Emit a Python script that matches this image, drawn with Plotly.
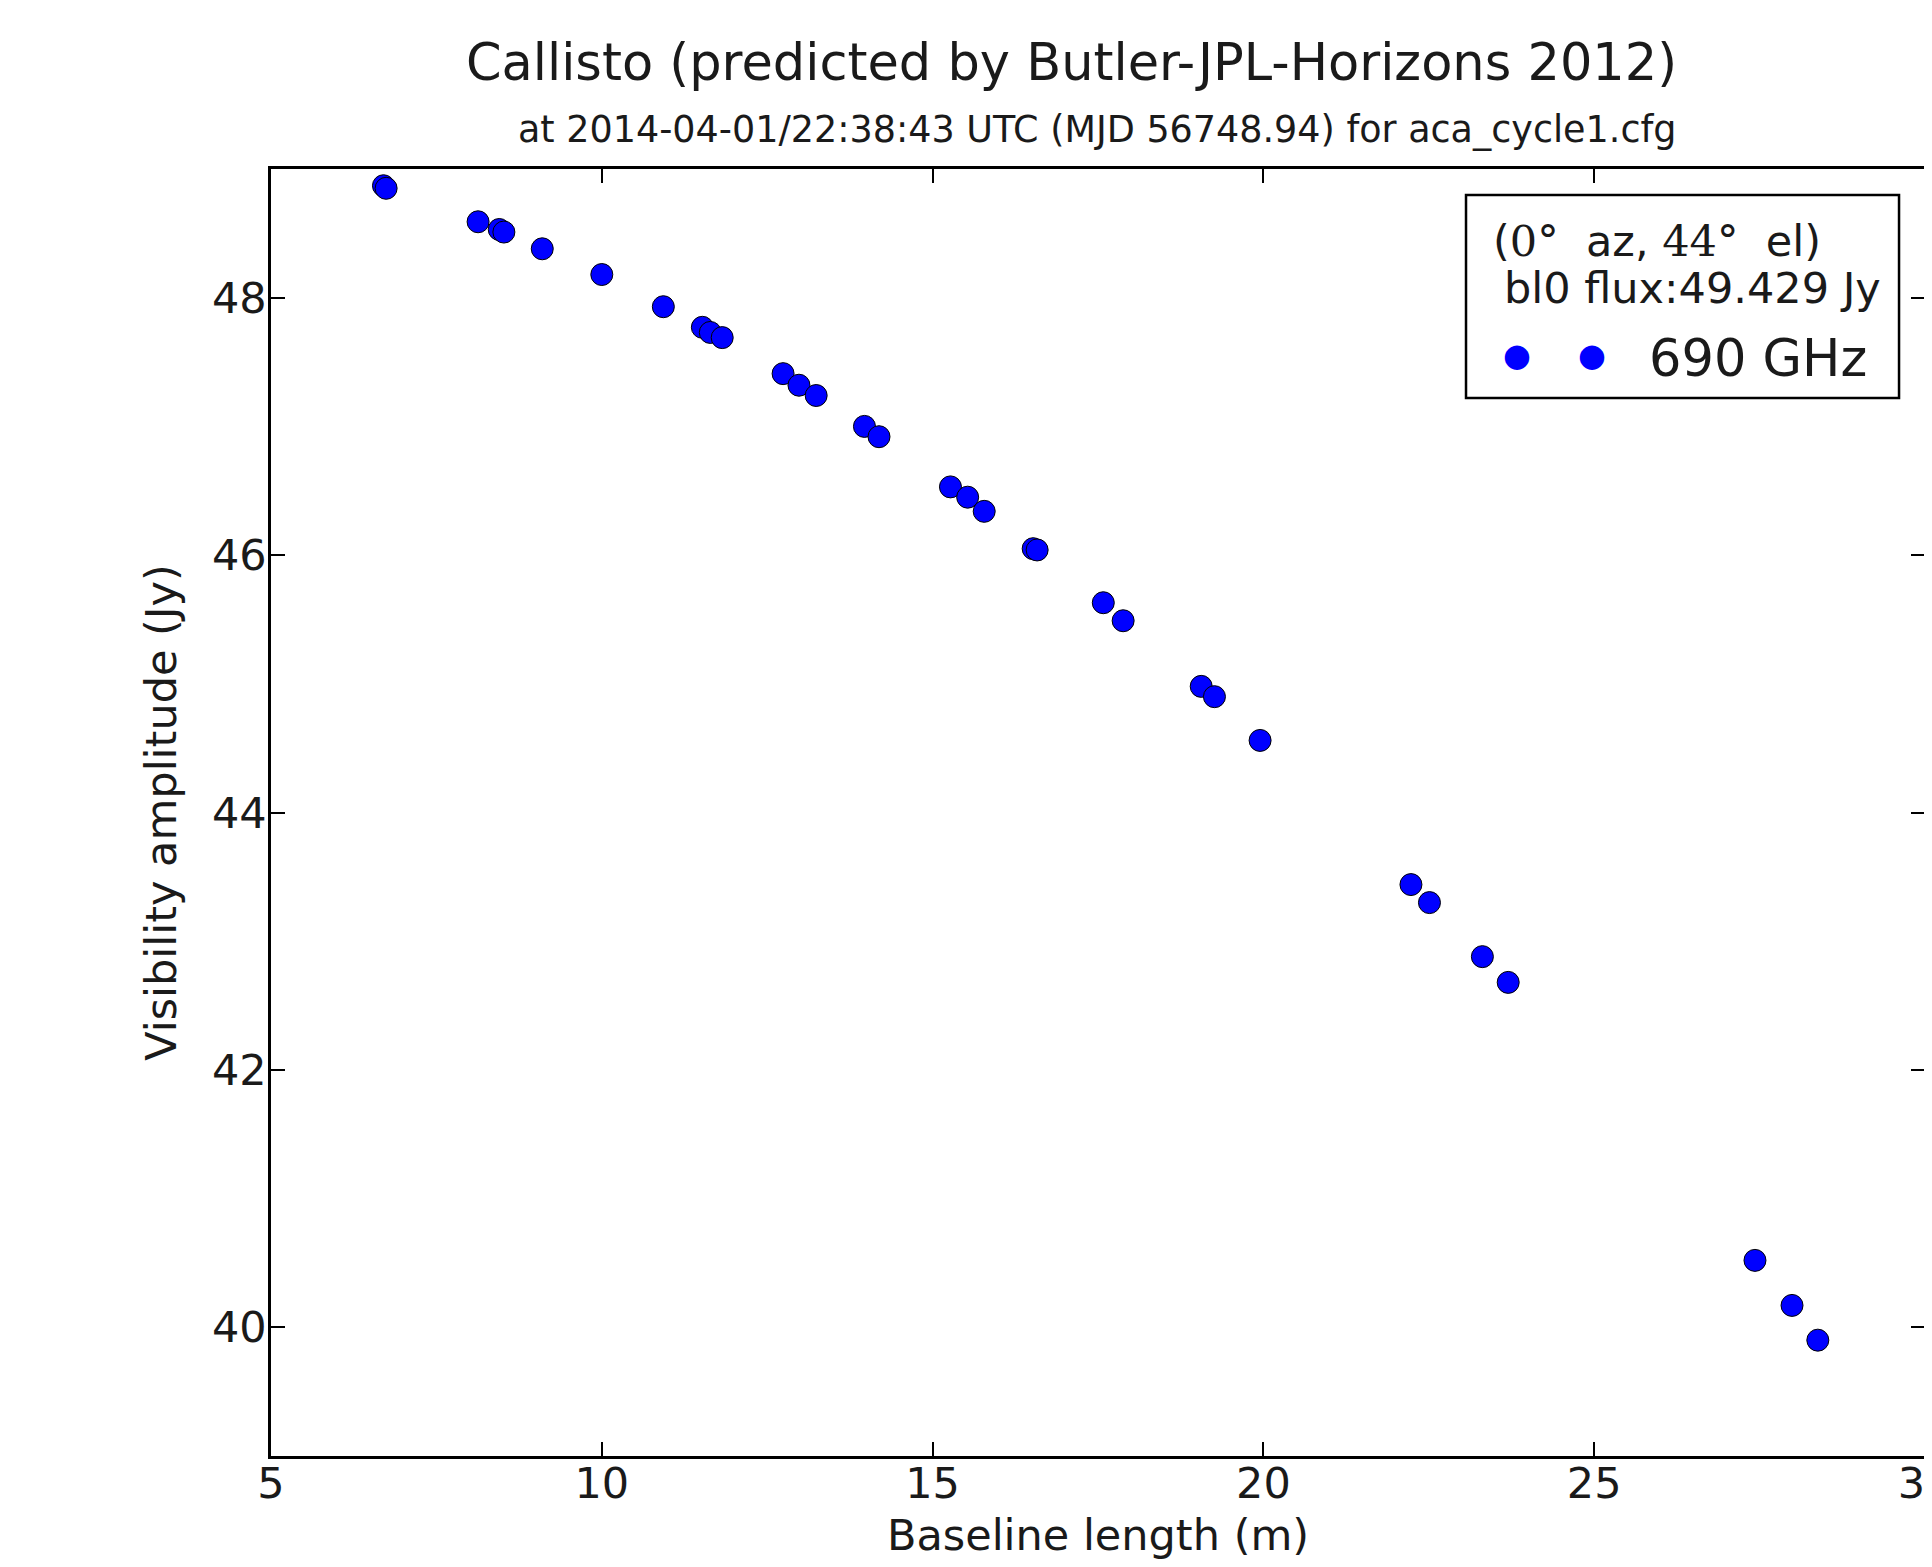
import plotly.graph_objects as go

# baseline length (m) and predicted visibility amplitude (Jy)
baseline = [6.70, 6.74, 8.13, 8.45, 8.52, 9.10, 10.00, 10.93, 11.52, 11.64, 11.82,
            12.74, 12.98, 13.24, 13.97, 14.19, 15.27, 15.53, 15.78, 16.52, 16.58,
            17.58, 17.88, 19.06, 19.26, 19.95, 22.23, 22.51, 23.31, 23.70,
            27.43, 27.99, 28.38]
amplitude = [48.87, 48.85, 48.59, 48.53, 48.51, 48.38, 48.18, 47.93, 47.77, 47.73, 47.69,
             47.41, 47.32, 47.24, 47.00, 46.92, 46.53, 46.45, 46.34, 46.05, 46.04,
             45.63, 45.49, 44.98, 44.90, 44.56, 43.44, 43.30, 42.88, 42.68,
             40.52, 40.17, 39.90]
freq_label = "690 GHz"
x_ticks = [5, 10, 15, 20, 25, 30]
y_ticks = [40, 42, 44, 46, 48]

title = "Callisto (predicted by Butler-JPL-Horizons 2012)"
subtitle = "at 2014-04-01/22:38:43 UTC (MJD 56748.94) for aca_cycle1.cfg"
serif = "font-family:'DejaVu Serif'"
pos_line = ("(<span style=\"" + serif + "\">0°</span>  az, "
            "<span style=\"" + serif + "\">44°</span>  el)")
flux_line = "bl0 flux:49.429 Jy"

FONT = "DejaVu Sans"
INK = "#1a1a1a"
BLUE = "#0000ff"

fig = go.Figure()
fig.add_trace(go.Scatter(
    x=baseline, y=amplitude, mode="markers", name=freq_label,
    marker=dict(color=BLUE, size=22, line=dict(color="black", width=1)),
))

axis_common = dict(
    showline=True, linecolor="black", linewidth=2.5, mirror="ticks",
    ticks="inside", ticklen=14, tickwidth=1.5, tickcolor="black",
    showgrid=False, zeroline=False, ticklabeloverflow="allow", automargin=False,
    tickfont=dict(family=FONT, size=43, color=INK),
)

fig.update_xaxes(range=[5, 30], tickvals=x_ticks, ticklabelstandoff=-12,
                 title=dict(text="Baseline length (m)", font=dict(family=FONT, size=43, color=INK),
                            standoff=13),
                 **axis_common)
fig.update_yaxes(range=[39, 49], tickvals=y_ticks, ticklabelstandoff=-7,
                 title=dict(text="Visibility amplitude (Jy)", font=dict(family=FONT, size=43, color=INK),
                            standoff=22),
                 **axis_common)


def note(text, x, y, size, xanchor="left", color=INK):
    return dict(text=text, xref="paper", yref="paper", x=x, y=y,
                xanchor=xanchor, yanchor="middle", showarrow=False,
                font=dict(family=FONT, size=size, color=color))


annotations = [
    note(title, 0.484, 1.083, 51, "center"),
    note(subtitle, 0.4995, 1.031, 36.5, "center"),
    # legend box contents
    note(pos_line, 0.7375, 0.9441, 43),
    note(flux_line, 0.7445, 0.9072, 43),
    note("●", 0.7533, 0.8555, 32, "center", BLUE),
    note("●", 0.7987, 0.8555, 32, "center", BLUE),
    note(freq_label, 0.8320, 0.8524, 51),
]

fig.update_layout(
    width=1932, height=1567,
    margin=dict(l=263, r=15, t=161, b=119, autoexpand=False),
    paper_bgcolor="white", plot_bgcolor="white",
    font=dict(family=FONT, color=INK),
    showlegend=False,
    shapes=[dict(type="rect", xref="paper", yref="paper",
                 x0=0.7225, x1=0.9843, y0=0.8221, y1=0.9798,
                 line=dict(color="black", width=2.5), fillcolor="white", layer="above")],
    annotations=annotations,
)

fig.write_html("out.html")
